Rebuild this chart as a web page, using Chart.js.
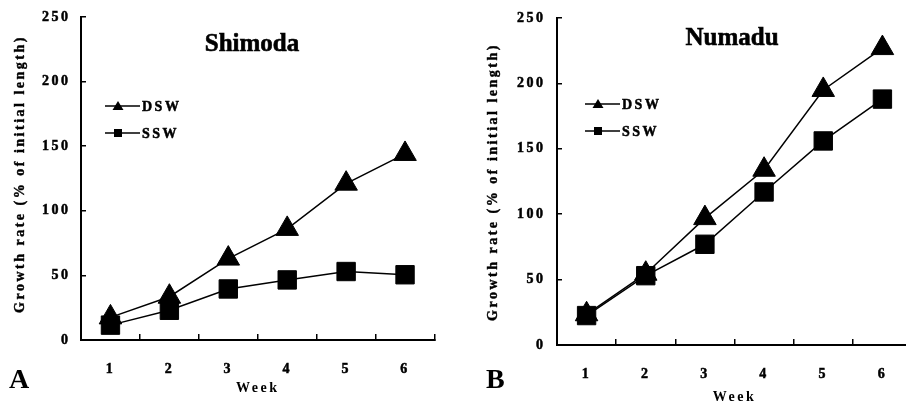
<!DOCTYPE html>
<html>
<head>
<meta charset="utf-8">
<script src="https://cdn.jsdelivr.net/npm/chart.js@4.4.1/dist/chart.umd.min.js"></script>
<style>
html, body { margin: 0; padding: 0; background: #fff; overflow: hidden; width: 906px; height: 404px; }
.panel { position: absolute; top: 0; height: 404px; }
</style>
</head>
<body>
<div class="panel" style="left:0;width:450px"><canvas id="chartA" width="450" height="404"></canvas></div>
<div class="panel" style="left:455px;width:460px"><canvas id="chartB" width="460" height="404"></canvas></div>
<script>
// data ---------------------------------------------------
const weeks = ['1', '2', '3', '4', '5', '6'];
const seriesNames = ['DSW', 'SSW'];

const shimodaDSW = [17.5, 33.5, 63, 86, 121, 144];
const shimodaSSW = [11.5, 23, 39.5, 46.5, 53, 50.5];

const numaduDSW = [23.5, 54.5, 97, 134, 195, 227];
const numaduSSW = [22.5, 53, 77, 117, 156, 188];

const yTickStep = 50;
const yMax = 250;
const yTitle = 'Growth rate (% of initial length)';

// helpers ------------------------------------------------
const serif = "'Liberation Serif', 'DejaVu Serif', serif";
const boldFont = size => ({ family: serif, size: size, weight: 'bold', lineHeight: 1 });

// scanned-figure look: spaced out letters on axes
const spacing = {
    id: 'spacing',
    beforeUpdate(chart) { chart.ctx.letterSpacing = '2.5px'; },
    beforeDraw(chart) { chart.ctx.letterSpacing = '2.5px'; }
};

// panel title, panel letter, y title and the legend inside the plot
const panelText = {
    id: 'panelText',
    afterDraw(chart, args, o) {
        const ctx = chart.ctx;
        ctx.save();
        ctx.fillStyle = '#000';
        ctx.strokeStyle = '#000';
        ctx.textBaseline = 'middle';
        ctx.lineWidth = 0.6;

        ctx.letterSpacing = '0px';
        ctx.font = `bold 25px ${serif}`;
        ctx.textAlign = 'center';
        ctx.fillText(o.title, o.titleX, o.titleY);
        ctx.strokeText(o.title, o.titleX, o.titleY);

        ctx.font = `bold 28px ${serif}`;
        ctx.textAlign = 'left';
        ctx.fillText(o.letter, o.letterX, o.letterY);

        // rotated y axis title
        ctx.save();
        ctx.font = `bold 14px ${serif}`;
        ctx.letterSpacing = '2.5px';
        ctx.lineWidth = 0.4;
        ctx.translate(o.yTitleX, o.yTitleY);
        ctx.rotate(-Math.PI / 2);
        ctx.textAlign = 'center';
        ctx.fillText(yTitle, 0, 0);
        ctx.strokeText(yTitle, 0, 0);
        ctx.restore();

        ctx.font = `bold 14px ${serif}`;
        ctx.letterSpacing = '2.5px';
        chart.data.datasets.forEach((ds, i) => {
            const y = o.legendY + i * o.legendGap;
            const mx = o.legendX + 13;
            ctx.lineWidth = 1.5;
            ctx.beginPath();
            ctx.moveTo(o.legendX, y);
            ctx.lineTo(o.legendX + 35, y);
            ctx.stroke();
            ctx.beginPath();
            if (ds.pointStyle === 'triangle') {
                ctx.moveTo(mx, y - 5);
                ctx.lineTo(mx + 5.5, y + 4);
                ctx.lineTo(mx - 5.5, y + 4);
            } else {
                ctx.rect(mx - 4, y - 4, 8, 8);
            }
            ctx.closePath();
            ctx.fill();
            ctx.lineWidth = 0.5;
            ctx.fillText(ds.label, o.legendX + 37, y + 1);
            ctx.strokeText(ds.label, o.legendX + 37, y + 1);
        });
        ctx.restore();
    }
};

function makeDataset(label, values, style, radius) {
    return {
        label: label,
        data: values,
        borderColor: '#000',
        backgroundColor: '#000',
        borderWidth: 1.5,
        pointStyle: style,
        pointRadius: radius,
        pointBorderWidth: 1,
        pointBackgroundColor: '#000',
        pointBorderColor: '#000',
        tension: 0,
        clip: false
    };
}

function makeChart(id, dsw, ssw, layout, text) {
    return new Chart(document.getElementById(id), {
        type: 'line',
        data: {
            labels: weeks,
            datasets: [
                makeDataset(seriesNames[0], dsw, 'triangle', 13),
                makeDataset(seriesNames[1], ssw, 'rect', 13)
            ]
        },
        options: {
            responsive: false,
            animation: false,
            events: [],
            layout: { autoPadding: false, padding: { left: 0, top: layout.top, right: layout.right, bottom: 0 } },
            plugins: {
                legend: { display: false },
                tooltip: { enabled: false },
                panelText: text
            },
            scales: {
                x: {
                    type: 'category',
                    offset: true,
                    grid: { offset: true, drawOnChartArea: false, tickLength: -6, color: '#000', lineWidth: 1.5 },
                    border: { color: '#000', width: 2 },
                    ticks: { color: '#000', font: boldFont(14), padding: 28, maxRotation: 0,
                             textStrokeColor: '#000', textStrokeWidth: 0.5 },
                    title: { display: true, text: 'Week', color: '#000', font: boldFont(14), padding: { top: 0, bottom: layout.weekPad } },
                    afterFit(s) {
                        s.height = layout.xHeight;
                        s.paddingLeft = 0;
                        s.paddingRight = 0;
                    }
                },
                y: {
                    min: 0,
                    max: yMax,
                    grid: { drawOnChartArea: false, tickLength: -5, color: '#000', lineWidth: 1.5 },
                    border: { color: '#000', width: 2 },
                    ticks: { stepSize: yTickStep, color: '#000', font: boldFont(14), padding: layout.yTickPad,
                             textStrokeColor: '#000', textStrokeWidth: 0.5 },
                    title: { display: false },
                    afterFit(s) {
                        s.width = layout.yWidth;
                        s.paddingTop = 0;
                        s.paddingBottom = 0;
                    }
                }
            }
        },
        plugins: [spacing, panelText]
    });
}

makeChart('chartA', shimodaDSW, shimodaSSW,
    { top: 17, right: 15.5, xHeight: 64, yWidth: 81, weekPad: 9, yTickPad: 15.5 },
    { title: 'Shimoda', titleX: 252, titleY: 45, letter: 'A', letterX: 9, letterY: 381,
      yTitleX: 20, yTitleY: 174, legendX: 105, legendY: 106, legendGap: 27 });

makeChart('chartB', numaduDSW, numaduSSW,
    { top: 18, right: 3, xHeight: 59, yWidth: 102, weekPad: 0, yTickPad: 16.5 },
    { title: 'Numadu', titleX: 277, titleY: 39, letter: 'B', letterX: 31, letterY: 381,
      yTitleX: 38, yTitleY: 182, legendX: 130, legendY: 104, legendGap: 27 });
</script>
</body>
</html>
